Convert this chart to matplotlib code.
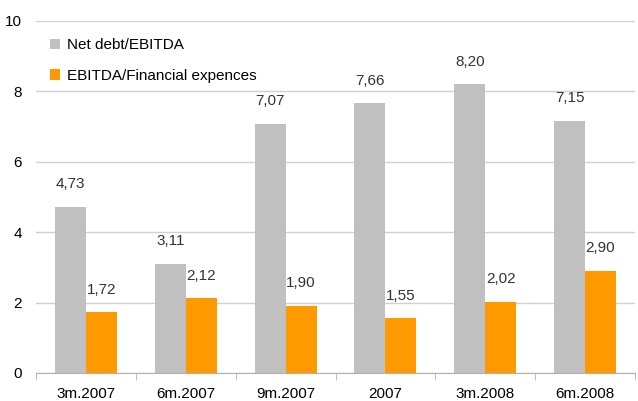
import numpy as np
import matplotlib.pyplot as plt

plt.rcParams['font.family'] = ['Liberation Sans', 'DejaVu Sans']

periods = ['3m.2007', '6m.2007', '9m.2007', '2007', '3m.2008', '6m.2008']
net_debt = [4.73, 3.11, 7.07, 7.66, 8.20, 7.15]
ebitda_fin = [1.72, 2.12, 1.90, 1.55, 2.02, 2.90]

gray = '#c0c0c0'
orange = '#ff9900'

fig = plt.figure(figsize=(6.38, 4.01), dpi=100)
ax = fig.add_axes([36 / 638, 28 / 401, 599 / 638, 352 / 401])

x = np.arange(len(periods))
w = 0.31
b1 = ax.bar(x - w / 2, net_debt, w, color=gray, label='Net debt/EBITDA', zorder=3)
b2 = ax.bar(x + w / 2, ebitda_fin, w, color=orange, label='EBITDA/Financial expences', zorder=3)

for bars, vals in ((b1, net_debt), (b2, ebitda_fin)):
    for r, v in zip(bars, vals):
        ax.text(r.get_x() + r.get_width() / 2, v + 0.45, f'{v:.2f}'.replace('.', ','),
                ha='center', va='bottom', fontsize=11, color='#333333')

ax.set_xlim(-0.5, len(periods) - 0.5)
ax.set_ylim(0, 10)
ax.set_yticks([0, 2, 4, 6, 8, 10])
ax.yaxis.grid(True, color='#d0d0d0', linewidth=1, zorder=0)
ax.set_axisbelow(True)
for s in ('top', 'right', 'left'):
    ax.spines[s].set_visible(False)
ax.spines['bottom'].set_color('#b0b0b0')
ax.tick_params(axis='y', length=0, labelsize=11, pad=10, colors='black')
ax.set_xticks(x)
ax.set_xticklabels(periods, fontsize=11)
ax.tick_params(axis='x', length=0, pad=10)
ax.set_xticks(np.arange(len(periods) + 1) - 0.5, minor=True)
ax.tick_params(axis='x', which='minor', length=5, color='#b0b0b0')

ax.legend(loc='upper left', bbox_to_anchor=(0.0, 0.99), frameon=False, fontsize=11,
          handlelength=0.7, handleheight=0.7, handletextpad=0.4, labelspacing=1.1)

fig.savefig('out.png', dpi=100)
